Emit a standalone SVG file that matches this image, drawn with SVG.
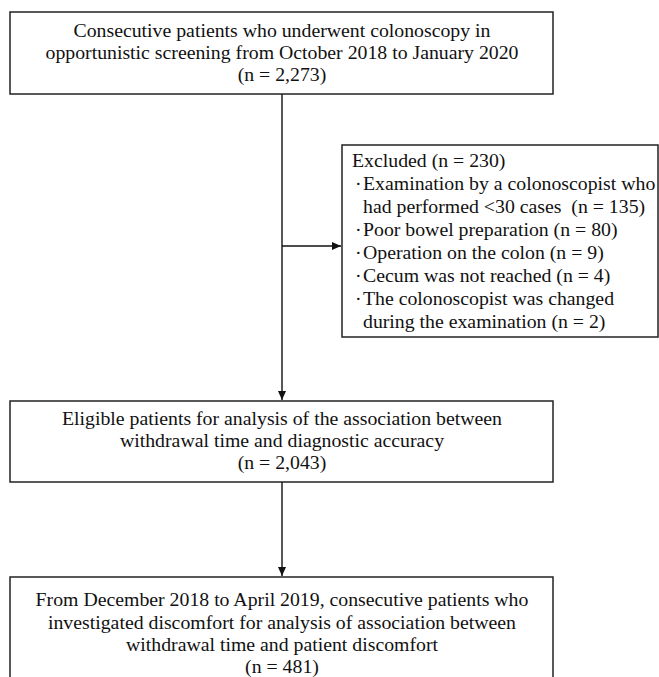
<svg xmlns="http://www.w3.org/2000/svg" width="659" height="677" viewBox="0 0 659 677">
<style>
.box{fill:#fff;stroke:#222;stroke-width:1.5}
text{font-family:'Liberation Serif','Times New Roman',serif;font-size:19.8px;fill:#111}
.c{text-anchor:middle}
.ln{stroke:#111;stroke-width:1.4;fill:none}
</style>
<defs>
<marker id="ah" markerWidth="10" markerHeight="10" refX="9" refY="4" orient="auto" markerUnits="userSpaceOnUse">
<path d="M0,0 L9,4 L0,8 Z" fill="#111"/>
</marker>
</defs>
<rect width="659" height="677" fill="#fff"/>
<g id="connectors">
<line class="ln" x1="282" y1="94" x2="282" y2="400" marker-end="url(#ah)"/>
<line class="ln" x1="282" y1="246" x2="341" y2="246" marker-end="url(#ah)"/>
<line class="ln" x1="282" y1="482" x2="282" y2="576" marker-end="url(#ah)"/>
</g>
<g id="n1">
<rect class="box" x="10" y="12" width="543" height="82"/>
<text class="c" x="282" y="37">Consecutive patients who underwent colonoscopy in</text>
<text class="c" x="282" y="59">opportunistic screening from October 2018 to January 2020</text>
<text class="c" x="282" y="81">(n = 2,273)</text>
</g>
<g id="n2">
<rect class="box" x="342" y="145" width="316" height="192"/>
<text x="352" y="167">Excluded (n = 230)</text>
<text x="355" y="190">·</text><text x="363" y="190">Examination by a colonoscopist who</text>
<text x="363" y="213" xml:space="preserve">had performed &lt;30 cases  (n = 135)</text>
<text x="355" y="236">·</text><text x="363" y="236">Poor bowel preparation (n = 80)</text>
<text x="355" y="259">·</text><text x="363" y="259">Operation on the colon (n = 9)</text>
<text x="355" y="282">·</text><text x="363" y="282">Cecum was not reached (n = 4)</text>
<text x="355" y="305">·</text><text x="363" y="305">The colonoscopist was changed</text>
<text x="363" y="328">during the examination (n = 2)</text>
</g>
<g id="n3">
<rect class="box" x="10" y="401" width="543" height="81"/>
<text class="c" x="282" y="425">Eligible patients for analysis of the association between</text>
<text class="c" x="282" y="447">withdrawal time and diagnostic accuracy</text>
<text class="c" x="282" y="469">(n = 2,043)</text>
</g>
<g id="n4">
<rect class="box" x="10" y="577" width="543" height="120"/>
<text class="c" x="282" y="606">From December 2018 to April 2019, consecutive patients who</text>
<text class="c" x="282" y="629">investigated discomfort for analysis of association between</text>
<text class="c" x="282" y="651">withdrawal time and patient discomfort</text>
<text class="c" x="282" y="673">(n = 481)</text>
</g>
</svg>
